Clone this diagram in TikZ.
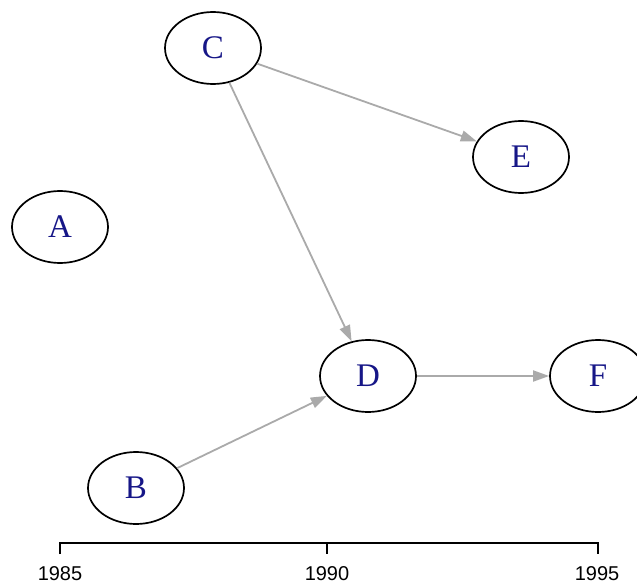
\documentclass[tikz,border=0pt]{standalone}
\usepackage{fontspec}
\setmainfont{Liberation Serif}
\newfontfamily\axisfont{Liberation Sans}
\usetikzlibrary{shapes.geometric,arrows.meta}
\definecolor{nodeblue}{RGB}{22,22,135}
\definecolor{edgegray}{RGB}{170,170,170}
\tikzset{
  vert/.style={ellipse, draw=black, line width=1.7pt, minimum width=96pt, minimum height=72pt, inner sep=0pt,
    text=nodeblue, font=\fontsize{33}{33}\selectfont},
  edge/.style={draw=edgegray, line width=1.8pt, -{Triangle[length=16pt,width=11pt]}},
  axisline/.style={draw=black, line width=1.4pt},
  yearlabel/.style={font=\axisfont\fontsize{20}{20}\selectfont, text=black, inner sep=0pt}
}
\begin{document}
\begin{tikzpicture}[x=1pt,y=-1pt]
\useasboundingbox (0,0) rectangle (637,586);
\node[vert] (C) at (213,48) {C};
\node[vert] (E) at (521,157) {E};
\node[vert] (A) at (60,227) {A};
\node[vert] (D) at (368,376) {D};
\node[vert] (F) at (598,376) {F};
\node[vert] (B) at (136,488) {B};
\draw[edge] (C) -- (E);
\draw[edge] (C) -- (D);
\draw[edge] (B) -- (D);
\draw[edge] (D) -- (F);
\coordinate (t1) at (60,543);
\coordinate (t2) at (327,543);
\coordinate (t3) at (598,543);
\draw[axisline] ([yshift=-11pt]t1) -- (t1) -- (t3) -- ([yshift=-11pt]t3);
\draw[axisline] (t2) -- ([yshift=-11pt]t2);
\node[yearlabel] (l1) at (60,574) {1985};
\node[yearlabel] (l2) at (327,574) {1990};
\node[yearlabel] (l3) at (597,574) {1995};
\end{tikzpicture}
\end{document}
